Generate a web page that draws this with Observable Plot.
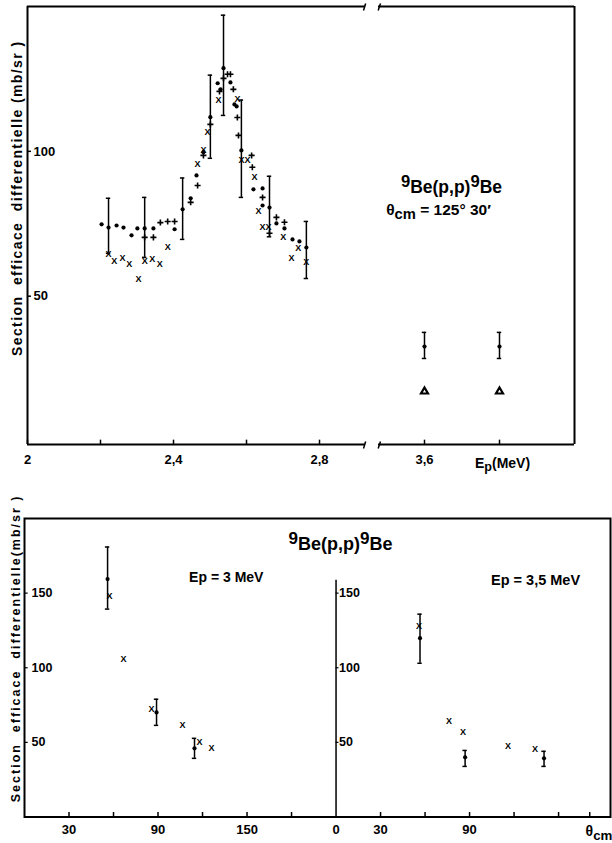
<!DOCTYPE html>
<html><head><meta charset="utf-8">
<script src="https://cdn.jsdelivr.net/npm/d3@7"></script>
<script src="https://cdn.jsdelivr.net/npm/@observablehq/plot@0.6"></script>
<style>
body{margin:0;background:#fff;}
#chart{width:612px;height:843px;}
#chart svg{display:block;}
</style></head><body><div id="chart"></div>
<script>
// ---------- TOP PANEL DATA: sigma (mb/sr) vs Ep (MeV), theta_cm = 125°30' ----------
const dotEnergy = [2.203,2.222,2.244,2.263,2.285,2.301,2.321,2.345,2.403,2.425,2.447,2.463,2.482,2.501,2.521,2.529,2.537,2.556,2.567,2.573,2.586,2.619,2.644,2.644,2.663,2.682,2.704,2.726,2.745,2.764];
const dotSigma  = [74.8,73.7,74.4,73.7,71.0,73.4,73.4,73.4,73.1,80.0,83.8,91.7,99.7,111.8,123.5,121.4,128.7,123.8,116.2,115.5,100.3,86.9,87.2,81.3,80.6,75.1,73.4,69.6,68.9,66.8];
const errEnergy = [2.222,2.321,2.425,2.501,2.537,2.586,2.663,2.764];
const errLow    = [64.8,63.4,69.6,97.6,112.4,84.1,70.5,56.1];
const errHigh   = [83.8,84.1,90.8,126.3,147.0,117.7,91.4,75.8];
const plusEnergy = [2.321,2.345,2.364,2.384,2.403,2.447,2.466,2.482,2.501,2.526,2.537,2.548,2.556,2.564,2.575,2.578,2.614,2.616,2.644,2.663,2.682,2.704];
const plusSigma  = [70.3,70.3,75.4,75.8,75.8,82.4,88.2,98.6,109.3,120.7,125.2,126.6,126.6,121.4,111.7,105.5,98.6,94.5,84.1,71.7,77.2,75.5];
const crossEnergy = [2.222,2.238,2.260,2.279,2.304,2.321,2.342,2.362,2.384,2.466,2.482,2.493,2.523,2.575,2.586,2.603,2.622,2.633,2.644,2.660,2.701,2.723,2.742,2.764];
const crossSigma  = [64.4,62.0,63.0,61.0,55.8,62.0,62.7,61.0,66.8,95.5,100.3,106.5,117.6,118.0,96.9,96.9,91.0,79.3,73.7,73.7,70.3,63.0,66.5,61.6];
const highEnergy = [3.6, 4.0];
const highSigma  = [32.6, 32.6];
const highLow    = [28.5, 28.5];
const highHigh   = [37.5, 37.5];
const triangleSigma = [17.1, 17.1];
const topTicks = [2, 2.2, 2.4, 2.6, 2.8, 3.6, 4.0];
const topTickLabelValues = [2, 2.4, 2.8, 3.6];
const topTickLabels = ["2", "2,4", "2,8", "3,6"];
const topYTicks = [50, 100];

// ---------- BOTTOM PANEL DATA: angular distributions ----------
const ep3DotAngle = [56.0, 89.0, 114.6];
const ep3DotSigma = [159.4, 70.1, 46.0];
const ep3DotLow   = [139.3, 61.4, 39.3];
const ep3DotHigh  = [180.9, 78.9, 52.7];
const ep3CrossAngle = [57.3, 66.8, 85.6, 106.5, 118.0, 126.1];
const ep3CrossSigma = [148.0, 105.7, 72.1, 61.4, 50.0, 46.0];
const ep35DotAngle = [56.6, 87.0, 140.2];
const ep35DotSigma = [119.8, 40.0, 39.3];
const ep35DotLow   = [103.0, 33.9, 33.9];
const ep35DotHigh  = [135.9, 44.6, 44.0];
const ep35CrossAngle = [56.0, 76.2, 85.6, 115.9, 134.1];
const ep35CrossSigma = [127.9, 64.1, 56.7, 47.3, 45.3];
const leftAngleTicks = [30, 60, 90, 120, 150, 180];
const leftAngleLabelValues = [30, 90, 150];
const rightAngleTicks = [30, 60, 90, 120, 150, 171];
const rightAngleLabelValues = [0, 30, 90];
const bottomYTicks = [50, 100, 150];

const FONT = "Liberation Sans, Arial, sans-serif";
const RIGHT_OFFSET = 210; // second sub-panel starts here on the shared angle axis

const zipPts = (xs, ys) => xs.map((x, i) => ({x, y: ys[i]}));
const zipErr = (xs, ys, lo, hi) => xs.map((x, i) => ({x, y: ys ? ys[i] : null, lo: lo[i], hi: hi[i]}));

const dots = zipPts(dotEnergy, dotSigma);
const plus = zipPts(plusEnergy, plusSigma);
const cross = zipPts(crossEnergy, crossSigma);
const errs = zipErr(errEnergy, null, errLow, errHigh);
const highs = zipErr(highEnergy, highSigma, highLow, highHigh);
const tris = zipPts(highEnergy, triangleSigma);

const TOP_YMIN = -1.2, TOP_YMAX = 150;
const BREAK_A = 2.926, BREAK_B = 3.3547, XMAX = 4.4;
const segs = [[2, BREAK_A], [BREAK_B, XMAX]];
const topLabelMap = new Map(topTickLabelValues.map((v, i) => [v, topTickLabels[i]]));
// slashes at the axis break (pixel -> data factors)
const pxE = [1/365, 1/187.5], pxS = 1/2.8974;
const slashes = [];
for (const yv of [TOP_YMIN, TOP_YMAX]) {
  slashes.push({x1: BREAK_A - 2*pxE[0], x2: BREAK_A + 2*pxE[0], y1: yv - 4*pxS, y2: yv + 3*pxS});
  slashes.push({x1: BREAK_B - 2*pxE[1], x2: BREAK_B + 2*pxE[1], y1: yv - 4*pxS, y2: yv + 3*pxS});
}

const errorBars = (data, xf) => [
  Plot.ruleX(data, {x: xf, y1: "lo", y2: "hi", strokeWidth: 1.5}),
  Plot.ruleY(data, {y: "lo", x1: xf, x2: xf, insetLeft: -2.2, insetRight: -2.2, strokeWidth: 1.5}),
  Plot.ruleY(data, {y: "hi", x1: xf, x2: xf, insetLeft: -2.2, insetRight: -2.2, strokeWidth: 1.5})
];
const crossMark = (data, xf) => Plot.text(data, {x: xf, y: "y", text: () => "X", fontSize: 9, fontWeight: "bold"});

const topPlot = Plot.plot({
  width: 612, height: 490,
  marginLeft: 27, marginRight: 38, marginTop: 6, marginBottom: 46,
  style: {fontFamily: FONT, fontWeight: "bold", fontSize: "12px", color: "black", background: "white", overflow: "visible"},
  x: {type: "linear", domain: [2, BREAK_A, BREAK_B, XMAX], range: [27, 365, 378, 574]},
  y: {domain: [TOP_YMIN, TOP_YMAX], range: [444, 6], axis: null},
  marks: [
    Plot.ruleX([2, XMAX], {strokeWidth: 2}),
    Plot.ruleY(segs, {y: TOP_YMAX, x1: d => d[0], x2: d => d[1], strokeWidth: 2}),
    Plot.ruleY(segs, {y: TOP_YMIN, x1: d => d[0], x2: d => d[1], strokeWidth: 2}),
    Plot.link(slashes, {x1: "x1", y1: "y1", x2: "x2", y2: "y2", strokeWidth: 1.5}),
    Plot.ruleX(topTicks, {x: d => d, y1: TOP_YMIN, y2: TOP_YMIN + 1.5, strokeWidth: 1.5}),
    Plot.axisX({ticks: topTickLabelValues, tickSize: 0, tickPadding: 10, tickFormat: d => topLabelMap.get(d), fontSize: 13, label: null}),
    Plot.ruleY(topYTicks, {y: d => d, x1: 2, x2: 2 + 4*pxE[0], strokeWidth: 1.5}),
    Plot.text(topYTicks, {x: 2, y: d => d, text: d => String(d), textAnchor: "start", dx: 6, fontSize: 13}),
    Plot.text(["Section  efficace  differentielle (mb/sr )"], {x: 1.974, y: 83.8, rotate: -90, text: d => d, fontSize: 14}),
    ...errorBars(errs, "x"),
    ...errorBars(highs, "x"),
    Plot.dot(dots, {x: "x", y: "y", r: 2.1, fill: "black", stroke: "none"}),
    Plot.dot(highs, {x: "x", y: "y", r: 2.1, fill: "black", stroke: "none"}),
    Plot.dot(plus, {x: "x", y: "y", symbol: "plus", r: 2.1, stroke: "black", strokeWidth: 1.6}),
    crossMark(cross, "x"),
    Plot.dot(tris, {x: "x", y: "y", symbol: "triangle", r: 2.6, stroke: "black", strokeWidth: 2.2, fill: "white"}),
    Plot.text(["9Be(p,p)9Be"], {x: 3.744, y: 87.5, text: d => d, fontSize: 17.5}),
    Plot.text(["θcm = 125° 30′"], {x: 3.675, y: 79.6, text: d => d, fontSize: 15.5}),
    Plot.text(["Ep(MeV)"], {x: 4.016, y: -7.8, text: d => d, fontSize: 14})
  ]
});

// ---------- bottom ----------
const bDots3 = zipErr(ep3DotAngle, ep3DotSigma, ep3DotLow, ep3DotHigh);
const bDots35 = zipErr(ep35DotAngle, ep35DotSigma, ep35DotLow, ep35DotHigh);
const bCross3 = zipPts(ep3CrossAngle, ep3CrossSigma);
const bCross35 = zipPts(ep35CrossAngle, ep35CrossSigma);
const allTicks = [...leftAngleTicks, ...rightAngleTicks.map(t => t + RIGHT_OFFSET)];
const labelEntries = [
  ...leftAngleLabelValues.map(v => [v, String(v)]),
  ...rightAngleLabelValues.map(v => [v + RIGHT_OFFSET, String(v)])
];
const bottomLabelMap = new Map(labelEntries);
const r35 = d => d.x + RIGHT_OFFSET;

const bottomPlot = Plot.plot({
  width: 612, height: 353,
  marginLeft: 24, marginRight: 2, marginTop: 28, marginBottom: 26.5,
  style: {fontFamily: FONT, fontWeight: "bold", fontSize: "12px", color: "black", background: "white", overflow: "visible"},
  x: {domain: [0, 395], range: [24, 610]},
  y: {domain: [0, 200], range: [326.5, 28], axis: null},
  marks: [
    Plot.frame({strokeWidth: 2}),
    Plot.ruleX([RIGHT_OFFSET], {y1: 0, y2: 158.7, strokeWidth: 1.5}),
    Plot.ruleX(allTicks, {x: d => d, y1: 0, y2: 3, strokeWidth: 1.5}),
    Plot.axisX({ticks: labelEntries.map(e => e[0]), tickSize: 0, tickPadding: 8, tickFormat: d => bottomLabelMap.get(d), fontSize: 13, label: null}),
    Plot.ruleY(bottomYTicks, {y: d => d, x1: 0, x2: 2.5, strokeWidth: 1.2}),
    Plot.ruleY(bottomYTicks, {y: d => d, x1: RIGHT_OFFSET, x2: RIGHT_OFFSET + 2, strokeWidth: 1.2}),
    Plot.text(bottomYTicks, {x: 0, y: d => d, text: d => String(d), textAnchor: "start", dx: 7, fontSize: 12.5}),
    Plot.text(bottomYTicks, {x: RIGHT_OFFSET, y: d => d, text: d => String(d), textAnchor: "start", dx: 3, fontSize: 12.5}),
    Plot.text(["Section  efficace  differentielle(mb/sr )"], {x: -5.7, y: 113, rotate: -90, text: d => d, fontSize: 12.5}),
    ...errorBars(bDots3, "x"),
    ...errorBars(bDots35, r35),
    Plot.dot(bDots3, {x: "x", y: "y", r: 2.1, fill: "black", stroke: "none"}),
    Plot.dot(bDots35, {x: r35, y: "y", r: 2.1, fill: "black", stroke: "none"}),
    crossMark(bCross3, "x"),
    crossMark(bCross35, r35),
    Plot.text(["9Be(p,p)9Be"], {x: 213, y: 183, text: d => d, fontSize: 18}),
    Plot.text(["Ep = 3 MeV"], {x: 136, y: 160.7, text: d => d, fontSize: 14}),
    Plot.text(["Ep = 3,5 MeV"], {x: 344.5, y: 158.7, text: d => d, fontSize: 14.5}),
    Plot.text(["θcm"], {x: 378.2, y: -9.7, text: d => d, textAnchor: "start", fontSize: 14})
  ]
});

// rich text: superscripts / subscripts as tspans, letter spacing for the axis titles
const richText = new Map([
  ["9Be(p,p)9Be", [["9", -6, 0.95], ["Be(p,p)", 6, 1], ["9", -6, 0.95], ["Be", 6, 1]]],
  ["θcm = 125° 30′", [["θ", 0, 1], ["cm", 4, 0.95], [" = 125° 30′", -4, 1]]],
  ["Ep(MeV)", [["E", 0, 1], ["p", 3, 0.9], ["(MeV)", -3, 1]]],
  ["θcm", [["θ", 0, 1], ["cm", 4, 0.95]]]
]);
const spacing = new Map([
  ["Section  efficace  differentielle (mb/sr )", 1.4],
  ["Section  efficace  differentielle(mb/sr )", 2.0]
]);
function richify(svg) {
  d3.select(svg).selectAll("text").each(function() {
    const content = this.textContent;
    if (spacing.has(content)) {
      d3.select(this).attr("letter-spacing", spacing.get(content)).style("white-space", "pre");
    }
    const spec = richText.get(content);
    if (!spec) return;
    const sel = d3.select(this);
    sel.text(null);
    for (const [t, dy, s] of spec) {
      const ts = sel.append("tspan").attr("dy", dy).text(t);
      if (s !== 1) ts.attr("font-size", s + "em");
    }
  });
}
richify(topPlot); richify(bottomPlot);
const host = document.getElementById("chart");
host.appendChild(topPlot);
host.appendChild(bottomPlot);
</script>
</body></html>
